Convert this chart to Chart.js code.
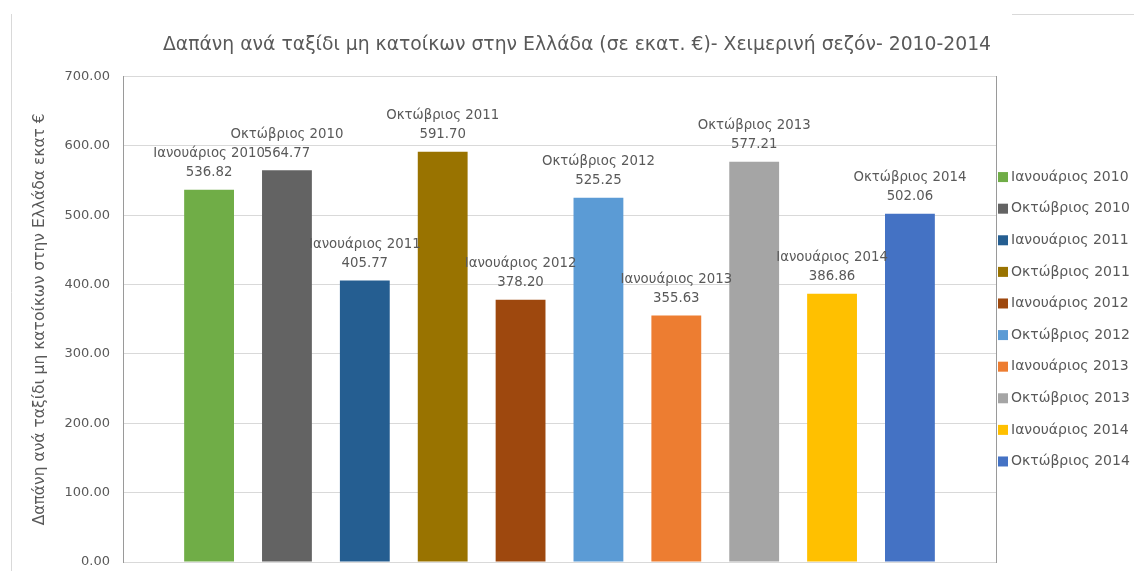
<!DOCTYPE html>
<html>
<head>
<meta charset="utf-8">
<script src="https://cdn.jsdelivr.net/npm/chart.js@4"></script>
<style>
    html, body { margin: 0; padding: 0; background: #fff; }
    #wrap { width: 1134px; height: 571px; }
</style>
</head>
<body>
<div id="wrap"><canvas id="chart" width="1134" height="571"></canvas></div>
<script>
'use strict';

// ─── Données ────────────────────────────────────────────────────────────────
var categories = [''];
var seriesNames = [
    'Ιανουάριος 2010', 'Οκτώβριος 2010',
    'Ιανουάριος 2011', 'Οκτώβριος 2011',
    'Ιανουάριος 2012', 'Οκτώβριος 2012',
    'Ιανουάριος 2013', 'Οκτώβριος 2013',
    'Ιανουάριος 2014', 'Οκτώβριος 2014'
];
var seriesValues = [536.82, 564.77, 405.77, 591.70, 378.20, 525.25, 355.63, 577.21, 386.86, 502.06];
var seriesColors = ['#70AD47', '#636363', '#255E91', '#997300', '#9E480E',
                    '#5B9BD5', '#ED7D31', '#A5A5A5', '#FFC000', '#4472C4'];
var yMin = 0, yMax = 700, yStep = 100;

var TEXT = '#595959';
var FONT = "'DejaVu Sans', 'Open Sans', sans-serif";

// ─── Étiquettes au-dessus des barres (nom + valeur) ─────────────────────────
var barLabels = {
    id: 'barLabels',
    afterDatasetsDraw: function(chart) {
        var ctx = chart.ctx;
        ctx.save();
        ctx.font = '13.3px ' + FONT;
        ctx.fillStyle = TEXT;
        ctx.textAlign = 'center';
        ctx.textBaseline = 'middle';
        chart.data.datasets.forEach(function(ds, i) {
            var bar = chart.getDatasetMeta(i).data[0];
            if (!bar) return;
            ctx.fillText(ds.label, bar.x, bar.y - 36);
            ctx.fillText(ds.data[0].toFixed(2), bar.x, bar.y - 17);
        });
        ctx.restore();
    }
};

// ─── Légende à droite, dessinée depuis les datasets ─────────────────────────
var sideLegend = {
    id: 'sideLegend',
    afterDraw: function(chart) {
        var ctx = chart.ctx;
        var area = chart.chartArea;
        var mid = (area.top + area.bottom) / 2;
        var n = chart.data.datasets.length;
        var step = 31.6;
        ctx.save();
        ctx.font = '14px ' + FONT;
        ctx.textBaseline = 'middle';
        chart.data.datasets.forEach(function(ds, i) {
            var y = mid + (i - (n - 1) / 2) * step;
            ctx.fillStyle = ds.backgroundColor;
            ctx.fillRect(area.right + 2, y - 5, 10, 10);
            ctx.fillStyle = TEXT;
            ctx.fillText(ds.label, area.right + 15, y);
        });
        // bord du cadre (fragments visibles)
        ctx.strokeStyle = '#d9d9d9';
        ctx.lineWidth = 1;
        ctx.beginPath();
        ctx.moveTo(11.5, 14);
        ctx.lineTo(11.5, chart.height);
        ctx.moveTo(chart.width - 122, 14.5);
        ctx.lineTo(chart.width, 14.5);
        ctx.stroke();
        ctx.restore();
    }
};

var datasets = seriesNames.map(function(name, i) {
    return {
        label: name,
        data: [seriesValues[i]],
        backgroundColor: seriesColors[i],
        categoryPercentage: 0.892,
        barPercentage: 0.64
    };
});

var chartDepense = new Chart(document.getElementById('chart'), {
    type: 'bar',
    data: { labels: categories, datasets: datasets },
    plugins: [barLabels, sideLegend],
    options: {
        responsive: false,
        animation: false,
        layout: { padding: { left: 20, right: 0, top: 0, bottom: 9 } },
        plugins: {
            legend: { display: false },
            tooltip: { enabled: false },
            title: {
                display: true,
                text: 'Δαπάνη ανά ταξίδι μη κατοίκων στην Ελλάδα (σε εκατ. €)- Χειμερινή σεζόν- 2010-2014',
                color: TEXT,
                font: { family: FONT, size: 18.8, weight: 'normal' },
                padding: { top: 34, bottom: 20 }
            }
        },
        scales: {
            x: { display: false },
            y: {
                min: yMin,
                max: yMax,
                ticks: {
                    stepSize: yStep,
                    color: TEXT,
                    padding: 0,
                    font: { family: FONT, size: 13 },
                    callback: function(v) { return v.toFixed(2); }
                },
                grid: { color: '#d9d9d9', drawTicks: true, tickLength: 13, tickColor: 'rgba(0,0,0,0)' },
                border: { color: '#9a9a9a' },
                title: {
                    display: true,
                    text: 'Δαπάνη ανά ταξίδι μη κατοίκων στην Ελλάδα εκατ €',
                    color: TEXT,
                    font: { family: FONT, size: 15.5, weight: 'normal' },
                    padding: { top: 11, bottom: 0 }
                },
                afterFit: function(scale) { scale.width = 103; }
            },
            yRight: {
                position: 'right',
                min: yMin,
                max: yMax,
                ticks: { display: false },
                grid: { drawOnChartArea: false, drawTicks: false },
                border: { color: '#9a9a9a' },
                afterFit: function(scale) { scale.width = 138; }
            }
        }
    }
});
</script>
</body>
</html>
